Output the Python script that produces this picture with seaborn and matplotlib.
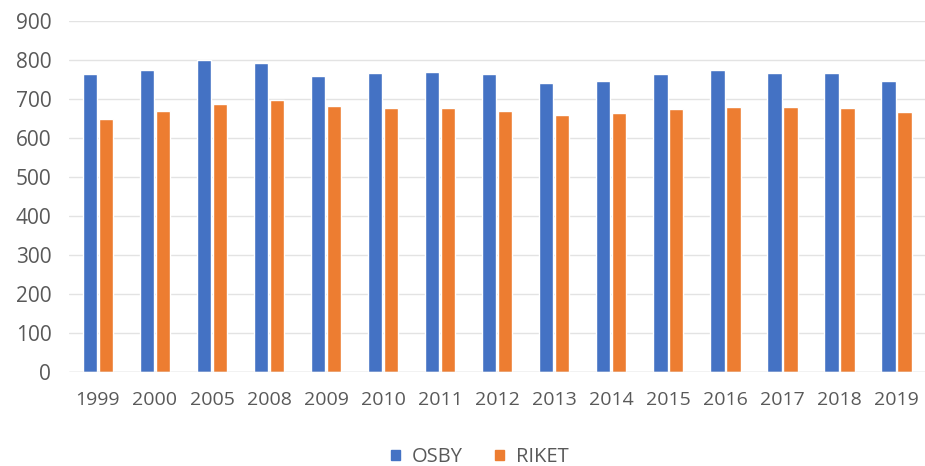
import matplotlib
matplotlib.use("Agg")
import matplotlib.pyplot as plt
import pandas as pd
import seaborn as sns

years = ["1999", "2000", "2005", "2008", "2009", "2010", "2011", "2012",
         "2013", "2014", "2015", "2016", "2017", "2018", "2019"]
osby = [763, 774, 800, 791, 758, 766, 770, 763, 742, 746, 763, 774, 766, 766, 747]
riket = [648, 670, 687, 697, 681, 678, 678, 668, 660, 663, 673, 680, 680, 677, 666]
series = ["OSBY", "RIKET"]
colors = ["#4472C4", "#ED7D31"]


def main() -> None:
    df = pd.DataFrame({"year": years, "OSBY": osby, "RIKET": riket})
    long = df.melt(id_vars="year", var_name="serie", value_name="value")

    sns.set_style("white")
    plt.rcParams["font.family"] = ["Open Sans", "DejaVu Sans"]

    fig = plt.figure(figsize=(9.25, 4.66), dpi=100)
    ax = fig.add_axes([0.075, 0.202, 0.925, 0.753])
    sns.barplot(data=long, x="year", y="value", hue="serie", hue_order=series,
                palette=colors, width=0.56, gap=0.1, ax=ax, saturation=1)

    ax.set_ylim(0, 900)
    ax.set_xlim(-0.5, 14.5)
    ax.set_yticks(range(0, 901, 100))
    ax.yaxis.grid(True, color="#E3E3E3", linewidth=1)
    ax.set_axisbelow(True)
    for side in ["top", "right", "left", "bottom"]:
        ax.spines[side].set_visible(False)
    ax.axhline(0, color="#D9D9D9", linewidth=1)
    ax.set_xlabel("")
    ax.set_ylabel("")
    ax.tick_params(axis="x", length=0, labelsize=14, labelcolor="#595959", pad=14)
    ax.tick_params(axis="y", length=0, labelsize=15, labelcolor="#595959", pad=13)

    ax.legend_.remove()
    handles = [plt.Rectangle((0, 0), 1, 1, color=c) for c in colors]
    fig.legend(handles, series, loc="center", bbox_to_anchor=(0.519, 0.019),
               ncol=2, frameon=False, fontsize=14.5, handlelength=0.45,
               handleheight=0.45, handletextpad=0.6, columnspacing=1.6,
               labelcolor="#595959")

    fig.savefig("out.png", dpi=100)
    plt.close(fig)


if __name__ == "__main__":
    main()
